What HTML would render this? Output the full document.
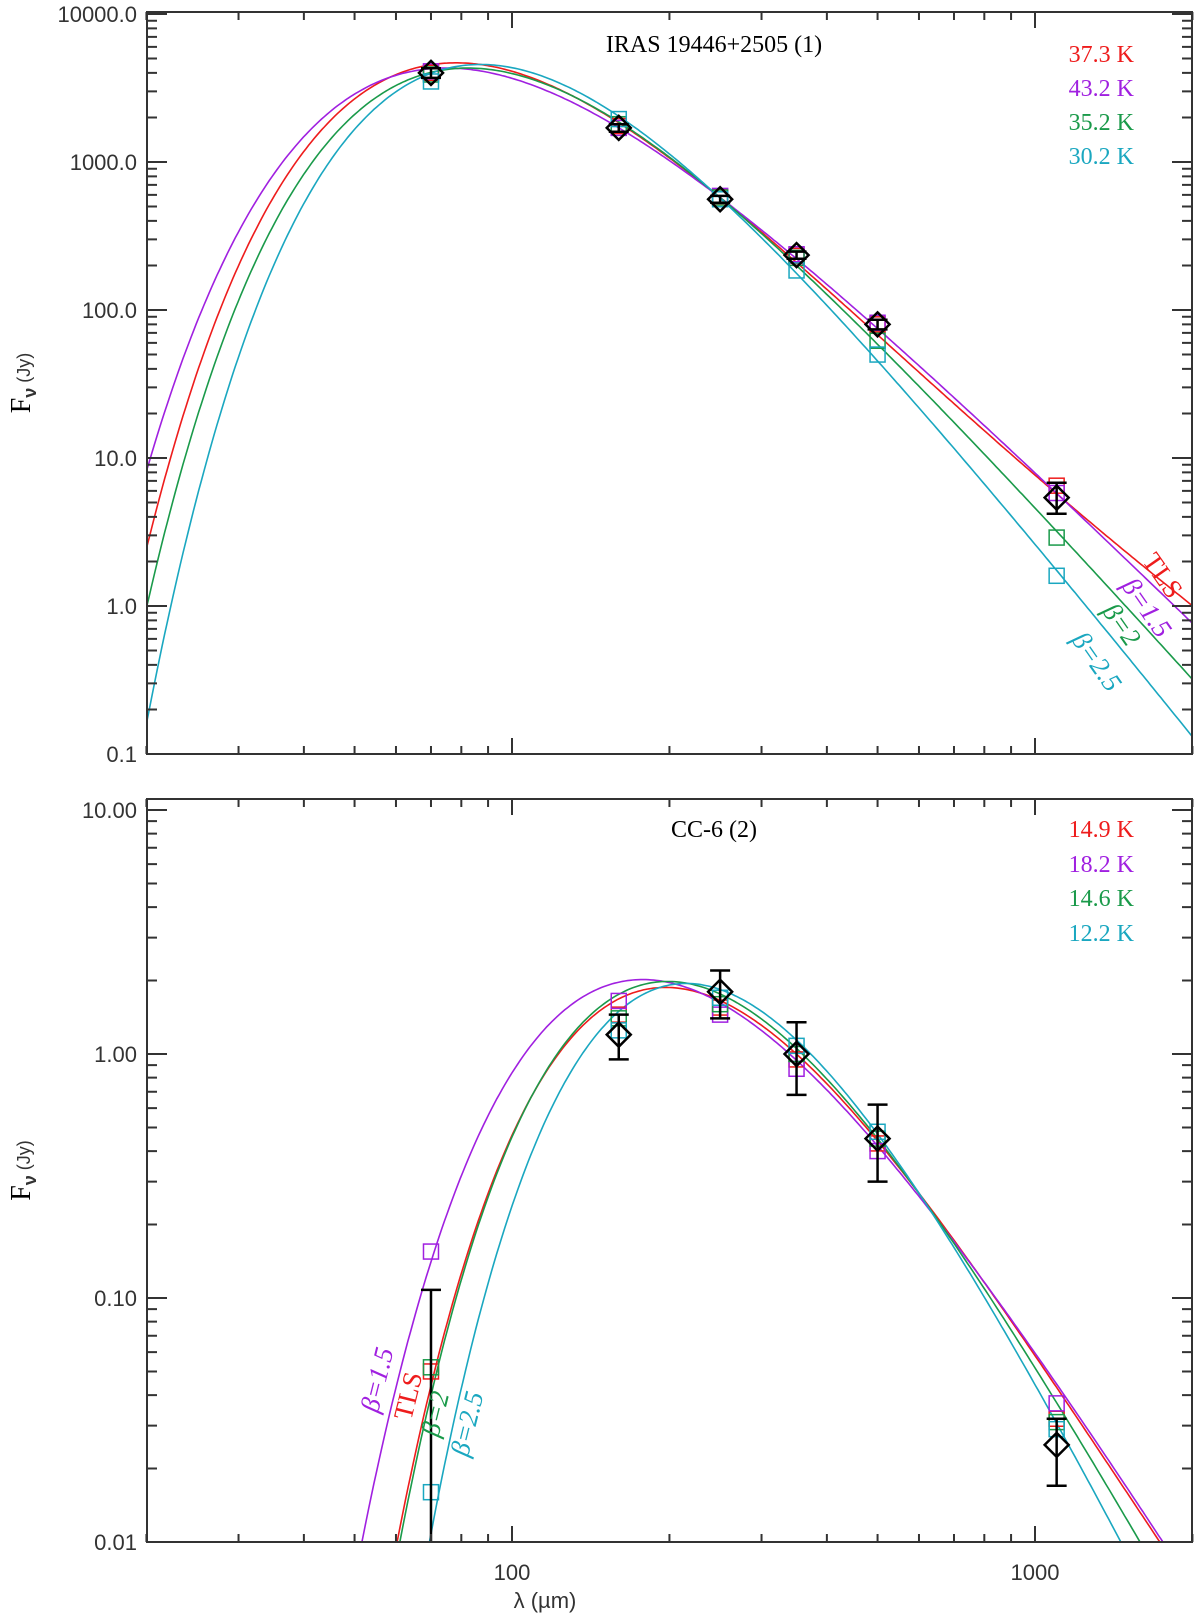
<!DOCTYPE html>
<html><head><meta charset="utf-8"><style>
html,body{margin:0;padding:0;background:#fff;overflow:hidden;width:1200px;height:1624px;}
svg{display:block;}
.tick{font-family:"Liberation Sans",sans-serif;font-size:22px;fill:#333;}
.ser{font-family:"Liberation Serif",serif;font-size:24px;}
.cl{font-family:"Liberation Serif",serif;font-size:27px;}
</style></head><body>
<svg id="chart" width="1200" height="1624" viewBox="0 0 1200 1624" xmlns="http://www.w3.org/2000/svg"></svg>
<script>
// ---- data ----
const wavelengths = [70, 160, 250, 350, 500, 1100];
const modelNames = ['TLS', 'beta-1.5', 'beta-2', 'beta-2.5'];
const modelColors = ['#ee1c1c', '#a020e0', '#1a9a4a', '#1aa7c0'];
const modelLabels = ['TLS', 'β=1.5', 'β=2', 'β=2.5'];
// panel 1
const p1Temps = [37.3, 43.2, 35.2, 30.2];
const p1Betas = [2.0, 1.5, 2.0, 2.5];
const p1Norm250 = [575, 575, 575, 570];
const p1Obs = [4000, 1700, 560, 235, 80, 5.4];
const p1ObsLo = [3700, 1600, 530, 222, 74, 4.2];
const p1ObsHi = [4300, 1800, 590, 248, 86, 6.8];
const p1Sq = [
  [4000, 1750, 580, 232, 80, 6.5],
  [4100, 1700, 590, 238, 82, 5.8],
  [3900, 1800, 575, 225, 62, 2.9],
  [3500, 1950, 560, 185, 50, 1.6]
];
// panel 2
const p2Temps = [14.9, 18.2, 14.6, 12.2];
const p2Betas = [2.0, 1.5, 2.0, 2.5];
const p2Norm500 = [0.44, 0.42, 0.45, 0.47];
const p2Obs = [null, 1.2, 1.8, 1.0, 0.45, 0.025];
const p2ObsLo = [0.01, 0.95, 1.4, 0.68, 0.30, 0.017];
const p2ObsHi = [0.108, 1.45, 2.2, 1.35, 0.62, 0.032];
const p2Sq = [
  [0.050, 1.45, 1.55, 0.95, 0.43, 0.032],
  [0.155, 1.65, 1.45, 0.87, 0.40, 0.037],
  [0.052, 1.40, 1.60, 1.00, 0.45, 0.031],
  [0.016, 1.25, 1.70, 1.08, 0.48, 0.029]
];
// TLS long-wavelength flattening (per panel): [lambda_c, exponent]
const tlsFlatten = [[1030, 1.5], [2500, 1.2]];
const p1YTicks = [0.1, 1, 10, 100, 1000, 10000];
const p1YLabels = ['0.1', '1.0', '10.0', '100.0', '1000.0', '10000.0'];
const p2YTicks = [0.01, 0.1, 1, 10];
const p2YLabels = ['0.01', '0.10', '1.00', '10.00'];
const xTickVals = [100, 1000];
const xTickLabels = ['100', '1000'];
const p1TempText = ['37.3 K', '43.2 K', '35.2 K', '30.2 K'];
const p2TempText = ['14.9 K', '18.2 K', '14.6 K', '12.2 K'];

// ---- geometry ----
const svg = document.getElementById('chart');
const NS = 'http://www.w3.org/2000/svg';
const X0 = 147, X1 = 1192;
function xs(l){ return 512 + (Math.log10(l) - 2) * 523; }
const panels = [
  {top: 12, bottom: 754, ymin: 0.1, ymax: 10000, y0: 14, dec: 148},
  {top: 799, bottom: 1542, ymin: 0.01, ymax: 10, y0: 810, dec: 244}
];
function ysFn(p){ return v => p.y0 + (Math.log10(p.ymax) - Math.log10(v)) * p.dec; }
function el(tag, attrs, parent){
  const e = document.createElementNS(NS, tag);
  for (const k in attrs) e.setAttribute(k, attrs[k]);
  (parent || svg).appendChild(e);
  return e;
}
function model(l, T, b, m, pi){
  const nu = 2.998e14 / l;
  const x = 6.626e-34 * nu / (1.381e-23 * T);
  let f = Math.pow(nu / 1e12, 3 + b) / (Math.exp(x) - 1);
  if (m === 0) f *= 1 + Math.pow(l / tlsFlatten[pi][0], tlsFlatten[pi][1]);
  return f;
}

function drawPanel(pi, temps, betas, normL, normV, obs, lo, hi, sq, yt, ytl){
  const p = panels[pi];
  const ys = ysFn(p);
  const g = el('g', {});
  
  
  const cp = el('clipPath', {id: 'clip' + pi}, g);
  el('rect', {x: X0, y: p.top, width: X1 - X0, height: p.bottom - p.top}, cp);
  const cg = el('g', {'clip-path': 'url(#clip' + pi + ')'}, g);
  for (let m = 0; m < 4; m++){
    const A = normV[m] / model(normL, temps[m], betas[m], m, pi);
    let d = '';
    for (let i = 0; i <= 400; i++){
      const l = Math.pow(10, Math.log10(20) + i / 400 * 2);
      let v = A * model(l, temps[m], betas[m], m, pi);
      if (v < p.ymin * 0.9) v = p.ymin * 0.9;
      d += (i ? 'L' : 'M') + xs(l).toFixed(1) + ',' + ys(v).toFixed(1);
    }
    const path = el('path', {d: d, fill: 'none', stroke: modelColors[m], 'stroke-width': 1.6}, cg);
    
    
  }
  for (let m = 0; m < 4; m++){
    for (let i = 0; i < wavelengths.length; i++){
      const cx = xs(wavelengths[i]), cy = ys(sq[m][i]);
      const r = el('rect', {x: cx - 7.5, y: cy - 7.5, width: 15, height: 15, fill: 'none', stroke: modelColors[m], 'stroke-width': 1.5}, g);
      
      
    }
  }
  for (let i = 0; i < wavelengths.length; i++){
    const cx = xs(wavelengths[i]);
    const eb = el('path', {d: 'M' + cx + ',' + ys(lo[i]) + 'V' + ys(hi[i]) + 'M' + (cx - 10) + ',' + ys(hi[i]) + 'h20' + (obs[i] === null ? '' : 'M' + (cx - 10) + ',' + ys(lo[i]) + 'h20'), stroke: '#000', 'stroke-width': 2.5, fill: 'none'}, g);
    
    
    if (obs[i] !== null){
      const cy = ys(obs[i]);
      const dm = el('path', {d: 'M' + cx + ',' + (cy - 12) + 'L' + (cx + 12) + ',' + cy + 'L' + cx + ',' + (cy + 12) + 'L' + (cx - 12) + ',' + cy + 'Z', fill: 'none', stroke: '#000', 'stroke-width': 2.5}, g);
      
      
    }
  }
  el('rect', {x: X0, y: p.top, width: X1 - X0, height: p.bottom - p.top, fill: 'none', stroke: '#333', 'stroke-width': 2}, g);
  const e0 = Math.round(Math.log10(p.ymin)), e1 = Math.round(Math.log10(p.ymax));
  let td = '';
  for (let e = e0; e <= e1; e++){
    for (let k = 1; k <= 9; k++){
      const v = k * Math.pow(10, e);
      if (v > p.ymax * 1.001) break;
      const y = ys(v);
      if (y < p.top - 0.5) continue;
      const L = k === 1 ? 20 : 10;
      td += 'M' + X0 + ',' + y + 'h' + L + 'M' + X1 + ',' + y + 'h-' + L;
    }
  }
  for (let e = 1; e <= 3; e++){
    for (let k = 1; k <= 9; k++){
      const v = k * Math.pow(10, e);
      if (v < 20 || v > 2000) continue;
      const x = xs(v), L = k === 1 ? 16 : 8;
      td += 'M' + x + ',' + p.bottom + 'v-' + L + 'M' + x + ',' + p.top + 'v' + L;
    }
  }
  el('path', {d: td, stroke: '#333', 'stroke-width': 2, fill: 'none'}, g);
  for (let i = 0; i < yt.length; i++){
    const t = el('text', {x: X0 - 10, y: ys(yt[i]) + 8, 'text-anchor': 'end', class: 'tick'}, g);
    t.textContent = ytl[i];
    
    
  }
  const yl = el('text', {transform: 'translate(30,' + ((p.top + p.bottom) / 2) + ') rotate(-90)', 'text-anchor': 'middle', class: 'tick'}, g);
  yl.innerHTML = '<tspan font-size="28" font-family="Liberation Serif,serif" fill="#000">F</tspan><tspan font-size="18" font-weight="bold" dy="6">ν</tspan><tspan dy="-6" font-size="18"> (Jy)</tspan>';
  
  
  return ys;
}

drawPanel(0, p1Temps, p1Betas, 250, p1Norm250, p1Obs, p1ObsLo, p1ObsHi, p1Sq, p1YTicks, p1YLabels);
drawPanel(1, p2Temps, p2Betas, 500, p2Norm500, p2Obs, p2ObsLo, p2ObsHi, p2Sq, p2YTicks, p2YLabels);

for (let i = 0; i < xTickVals.length; i++){
  const t = el('text', {x: xs(xTickVals[i]), y: 1580, 'text-anchor': 'middle', class: 'tick'});
  t.textContent = xTickLabels[i];
  
  
}
const xt = el('text', {x: 545, y: 1608, 'text-anchor': 'middle', class: 'tick', 'font-size': 25});
xt.textContent = 'λ (µm)';



function txt(x, y, s, fill, name, extra, cls){
  const t = el('text', Object.assign({x: x, y: y, class: cls || 'ser', fill: fill}, extra || {}));
  t.textContent = s;
  
  
  return t;
}
txt(714, 52, 'IRAS 19446+2505 (1)', '#000', 'panel-1-title', {'text-anchor': 'middle'});
txt(714, 837, 'CC-6 (2)', '#000', 'panel-2-title', {'text-anchor': 'middle'});
const p1Y = [62, 96, 130, 164], p2Y = [837, 872, 906, 941];
for (let m = 0; m < 4; m++){
  txt(1134, p1Y[m], p1TempText[m], modelColors[m], 'legend-temp-' + modelNames[m], {'text-anchor': 'end'});
  txt(1134, p2Y[m], p2TempText[m], modelColors[m], 'legend-temp-' + modelNames[m], {'text-anchor': 'end'});
}
const lab1 = [[1162, 576, 55], [1146, 608, 55], [1121, 625, 55], [1096, 662, 55]];
const lab2 = [[409, 1396, -76], [378, 1380, -76], [436, 1414, -76], [468, 1424, -76]];
for (let m = 0; m < 4; m++){
  const st = m === 0 ? 'normal' : 'italic';
  txt(0, 8, modelLabels[m], modelColors[m], 'curve-label-' + modelNames[m], {'text-anchor': 'middle', 'font-style': st, transform: 'translate(' + lab1[m][0] + ',' + lab1[m][1] + ') rotate(' + lab1[m][2] + ')'}, 'cl');
  txt(0, 8, modelLabels[m], modelColors[m], 'curve-label-' + modelNames[m], {'text-anchor': 'middle', 'font-style': st, transform: 'translate(' + lab2[m][0] + ',' + lab2[m][1] + ') rotate(' + lab2[m][2] + ')'}, 'cl');
}
</script>
</body></html>
